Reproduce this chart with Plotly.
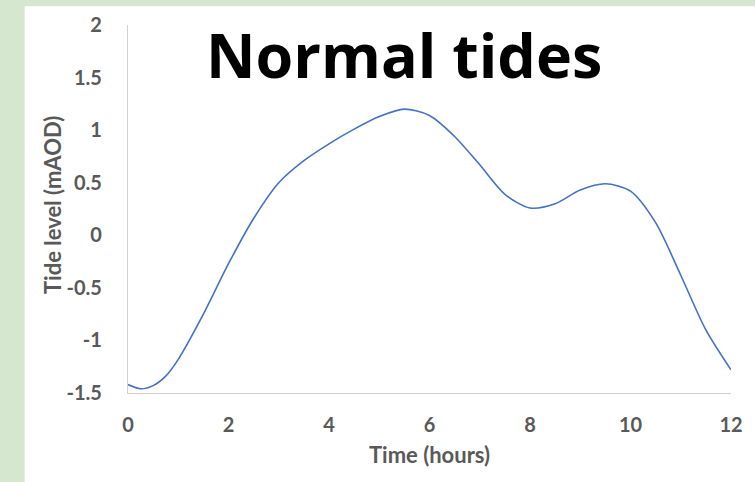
import plotly.graph_objects as go

time_hours = [0, 0.25, 0.5, 0.75, 1, 1.5, 2, 2.5, 3, 3.5, 4, 4.5, 5, 5.5, 6, 6.5,
              7, 7.5, 8, 8.5, 9, 9.5, 10, 10.5, 11, 11.5, 12]
tide_level = [-1.42, -1.46, -1.43, -1.34, -1.18, -0.75, -0.27, 0.16, 0.50, 0.71, 0.87,
              1.01, 1.13, 1.20, 1.14, 0.94, 0.67, 0.39, 0.26, 0.30, 0.43, 0.49, 0.42,
              0.12, -0.38, -0.90, -1.28]

x_ticks = [0, 2, 4, 6, 8, 10, 12]
x_ticktext = ["0", "2", "4", "6", "8", "10", "12"]
y_ticks = [2, 1.5, 1, 0.5, 0, -0.5, -1, -1.5]
y_ticktext = ["2", "1.5", "1", "0.5", "0", "-0.5", "-1", "-1.5"]

title_text = "Normal tides"
x_title = "Time (hours)"
y_title = "Tide level (mAOD)"

W, H = 755, 482
ml, mr, mt, mb = 128, 20, 22, 89
pw, ph = W - ml - mr, H - mt - mb

def px_to_paper_x(px):
    return (px - ml) / pw

def px_to_paper_y(py):
    return (H - mb - py) / ph

fig = go.Figure()
fig.add_trace(go.Scatter(
    x=time_hours, y=tide_level, mode="lines",
    line=dict(color="#4472c4", width=1.6, shape="spline", smoothing=0.8),
    hoverinfo="x+y", showlegend=False,
))

FONT = "Lato, 'Open Sans', sans-serif"
tick_font = dict(family=FONT, size=20, color="#595959", weight="bold")
title_font = dict(family=FONT, size=22, color="#595959", weight="bold")

fig.update_layout(
    width=W, height=H,
    margin=dict(l=ml, r=mr, t=mt, b=mb, pad=0),
    paper_bgcolor="#d5e8cf",
    plot_bgcolor="rgba(0,0,0,0)",
    shapes=[dict(
        type="rect", xref="paper", yref="paper", layer="below",
        x0=px_to_paper_x(24), x1=px_to_paper_x(W + 5),
        y0=px_to_paper_y(H + 5), y1=px_to_paper_y(3),
        fillcolor="white", line=dict(width=0),
    )],
    xaxis=dict(
        range=[0, 12], tickvals=x_ticks, ticktext=x_ticktext,
        showgrid=False, zeroline=False, showline=True, linecolor="#d0d0d0", linewidth=1.3,
        ticks="", tickfont=tick_font, ticklabelstandoff=14,
        title=dict(text=x_title, font=title_font, standoff=12),
    ),
    yaxis=dict(
        range=[-1.5, 2], tickvals=y_ticks, ticktext=y_ticktext,
        showgrid=False, zeroline=False, showline=True, linecolor="#d0d0d0", linewidth=1.3,
        ticks="", tickfont=tick_font, ticklabelstandoff=21,
    ),
    annotations=[
        dict(
            text="<b>" + title_text + "</b>", xref="paper", yref="paper",
            x=px_to_paper_x(406), y=px_to_paper_y(52), xanchor="center", yanchor="middle",
            showarrow=False, font=dict(family="'Open Sans', sans-serif", size=61, color="black"),
        ),
        dict(
            text=y_title, xref="paper", yref="paper", textangle=-90,
            x=px_to_paper_x(52), y=px_to_paper_y(204), xanchor="center", yanchor="middle",
            showarrow=False, font=title_font,
        ),
    ],
)

fig.write_html(
    "out.html",
    config={"displayModeBar": False},
    post_script="document.body.style.margin='0';document.body.style.overflow='hidden';",
)
